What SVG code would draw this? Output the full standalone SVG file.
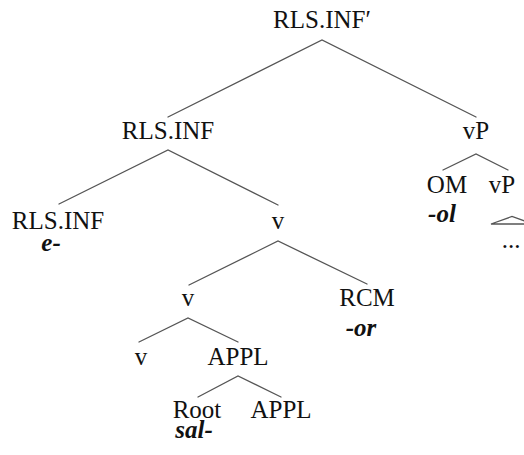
<svg xmlns="http://www.w3.org/2000/svg" width="524" height="455" viewBox="0 0 524 455">
  <rect width="524" height="455" fill="#fff"/>

  <!-- branches: shared stroke look set once on the group -->
  <g id="connectors" stroke="#555" stroke-width="1.3" fill="none" stroke-linecap="round">
    <polyline points="168,117 322,40 476,117"/>
    <polyline points="59,204 168,150 278,205"/>
    <polyline points="443,170 476,154 508,170"/>
    <polyline points="189,285 278,241 367,284"/>
    <polyline points="139,342 188,318 238,342"/>
    <polyline points="198,397 238,376 281,397"/>
    <!-- collapsed subtree under vP -->
    <polygon points="491,224 512,216.5 533,224"/>
  </g>

  <g id="n-root"><text x="322" y="28" font-family="Liberation Serif" font-size="25" fill="#111" text-anchor="middle">RLS.INF′</text></g>
  <g id="n-rlsinf-bar"><text x="168" y="139" font-family="Liberation Serif" font-size="25" fill="#111" text-anchor="middle">RLS.INF</text></g>
  <g id="n-vP"><text x="476" y="139" font-family="Liberation Serif" font-size="25" fill="#111" text-anchor="middle">vP</text></g>
  <g id="n-rlsinf-head">
    <text x="58" y="229" font-family="Liberation Serif" font-size="25" fill="#111" text-anchor="middle">RLS.INF</text>
    <text x="51" y="251" font-family="Liberation Serif" font-size="25" font-weight="bold" font-style="italic" fill="#111" text-anchor="middle">e-</text>
  </g>
  <g id="n-v-upper"><text x="278" y="229" font-family="Liberation Serif" font-size="25" fill="#111" text-anchor="middle">v</text></g>
  <g id="n-om">
    <text x="447" y="193" font-family="Liberation Serif" font-size="25" fill="#111" text-anchor="middle">OM</text>
    <text x="442" y="222" font-family="Liberation Serif" font-size="25" font-weight="bold" font-style="italic" fill="#111" text-anchor="middle">-ol</text>
  </g>
  <g id="n-vP-lower">
    <text x="502" y="193" font-family="Liberation Serif" font-size="25" fill="#111" text-anchor="middle">vP</text>
    <text x="511" y="248" font-family="Liberation Serif" font-size="25" fill="#111" text-anchor="middle">...</text>
  </g>
  <g id="n-v-mid"><text x="188" y="306" font-family="Liberation Serif" font-size="25" fill="#111" text-anchor="middle">v</text></g>
  <g id="n-rcm">
    <text x="367" y="306" font-family="Liberation Serif" font-size="25" fill="#111" text-anchor="middle">RCM</text>
    <text x="361" y="336" font-family="Liberation Serif" font-size="25" font-weight="bold" font-style="italic" fill="#111" text-anchor="middle">-or</text>
  </g>
  <g id="n-v-head"><text x="141" y="365" font-family="Liberation Serif" font-size="25" fill="#111" text-anchor="middle">v</text></g>
  <g id="n-appl-bar"><text x="238" y="365" font-family="Liberation Serif" font-size="25" fill="#111" text-anchor="middle">APPL</text></g>
  <g id="n-root-sal">
    <text x="197" y="418" font-family="Liberation Serif" font-size="25" fill="#111" text-anchor="middle">Root</text>
    <text x="194" y="438" font-family="Liberation Serif" font-size="25" font-weight="bold" font-style="italic" fill="#111" text-anchor="middle">sal-</text>
  </g>
  <g id="n-appl-head"><text x="281" y="418" font-family="Liberation Serif" font-size="25" fill="#111" text-anchor="middle">APPL</text></g>
</svg>
